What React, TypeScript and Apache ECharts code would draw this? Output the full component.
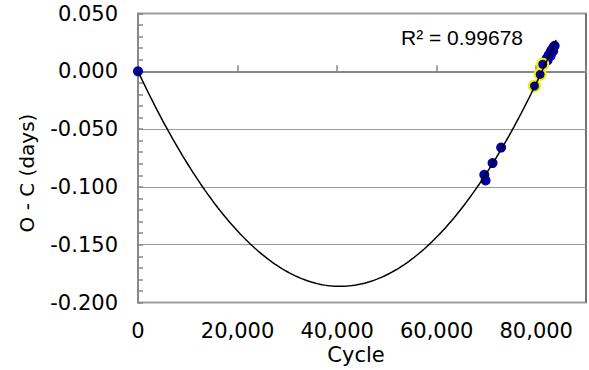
import React, { useEffect, useRef } from "react";
import * as echarts from "echarts";

// Observed O-C values (cycle, days)
const blueCycles = [0, 69570, 69830, 71230, 72950, 81700, 82100, 82300, 82500, 82900, 82900, 83200, 83400, 83500, 83700];
const blueOC = [0.0, -0.0895, -0.0945, -0.0794, -0.066, 0.008, 0.011, 0.0095, 0.014, 0.017, 0.0135, 0.019, 0.0175, 0.021, 0.022];

const ringCycles = [79650, 80790, 81310];
const ringOC = [-0.0127, -0.0026, 0.0061];

// Quadratic trendline coefficients: y = A x^2 + B x + C
const FIT_A = 1.13e-10;
const FIT_B = -9.17e-6;
const FIT_C = 0.0;
const FIT_START = 0;
const FIT_END = 84000;
const FIT_STEP = 500;
const R2_TEXT = "R² = 0.99678";

const yTicks = { min: -0.2, max: 0.05, interval: 0.05 };
const xTicks = { min: 0, max: 90000, interval: 20000 };

export default function App() {
  const ref = useRef<HTMLDivElement>(null);
  useEffect(() => {
    if (!ref.current) return;
    const chart = echarts.init(ref.current, null, { renderer: "svg" });
    const fit: number[][] = [];
    for (let x = FIT_START; x <= FIT_END; x += FIT_STEP) {
      fit.push([x, FIT_A * x * x + FIT_B * x + FIT_C]);
    }
    const blue = blueCycles.map((c, i) => [c, blueOC[i]]);
    const ring = ringCycles.map((c, i) => [c, ringOC[i]]);
    const font = "DejaVu Sans";
    chart.setOption({
      animation: false,
      grid: {
        left: 138,
        right: 3,
        top: 13.5,
        bottom: 67.5,
        show: true,
        borderColor: "#444",
        borderWidth: 1.5,
        backgroundColor: "#fff",
      },
      xAxis: {
        type: "value",
        min: xTicks.min,
        max: xTicks.max,
        interval: xTicks.interval,
        axisLine: { show: true, lineStyle: { color: "#888", width: 2 } },
        axisTick: { show: true, inside: true, length: 6, lineStyle: { color: "#888", width: 1.5 } },
        splitLine: { show: false },
        axisLabel: {
          margin: 18,
          fontFamily: font,
          fontSize: 21,
          color: "#000",
          formatter: (v: number) => (v > 85000 ? "" : v.toLocaleString("en-US")),
        },
      },
      yAxis: {
        type: "value",
        min: yTicks.min,
        max: yTicks.max,
        interval: yTicks.interval,
        axisLine: { show: true, lineStyle: { color: "#888", width: 2 } },
        axisTick: { show: true, inside: true, length: 5, lineStyle: { color: "#888", width: 1.5 } },
        minorTick: { show: true, splitNumber: 5, length: 5, lineStyle: { color: "#888", width: 1.5 } },
        splitLine: { show: true, lineStyle: { color: "#999", width: 1 } },
        axisLabel: {
          margin: 20,
          fontFamily: font,
          fontSize: 21,
          color: "#000",
          formatter: (v: number) => (Math.abs(v) < 1e-9 ? "0.000" : v.toFixed(3)),
        },
      },
      graphic: [
        {
          type: "text",
          x: 27,
          y: 173,
          rotation: Math.PI / 2,
          style: {
            text: "O - C (days)",
            fontFamily: font,
            fontSize: 20,
            fill: "#000",
            align: "center",
            verticalAlign: "middle",
          },
        },
        {
          type: "text",
          x: 356,
          y: 355,
          style: {
            text: "Cycle",
            fontFamily: font,
            fontSize: 21,
            fill: "#000",
            align: "center",
            verticalAlign: "middle",
          },
        },
        {
          type: "text",
          x: 401,
          y: 37,
          style: {
            text: R2_TEXT,
            fontFamily: "Liberation Sans",
            fontSize: 21,
            fill: "#000",
            align: "left",
            verticalAlign: "middle",
          },
        },
      ],
      series: [
        {
          type: "scatter",
          data: blue,
          symbol: "circle",
          symbolSize: 10,
          itemStyle: { color: "#00009c", opacity: 1 },
          z: 2,
        },
        {
          type: "scatter",
          data: ring,
          symbol: "circle",
          symbolSize: 11,
          itemStyle: { color: "#00009c", borderColor: "#f0f000", borderWidth: 2, opacity: 1 },
          z: 3,
        },
        {
          type: "line",
          data: fit,
          showSymbol: false,
          symbol: "none",
          lineStyle: { color: "#000", width: 1.5 },
          z: 4,
        },
      ],
    });
    return () => chart.dispose();
  }, []);
  return (
    <div
      ref={ref}
      style={{ position: "absolute", left: 0, top: 0, width: 589, height: 370, background: "#fff" }}
    />
  );
}
